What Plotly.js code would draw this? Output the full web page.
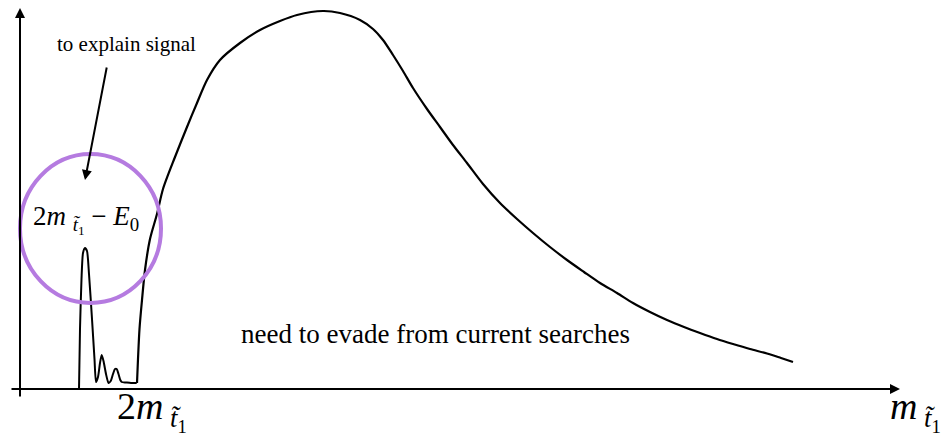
<!DOCTYPE html>
<html>
<head>
<meta charset="utf-8">
<script src="https://cdn.plot.ly/plotly-3.0.1.min.js"></script>
<style>html,body{margin:0;padding:0;background:#fff;}#chart{width:951px;height:439px;}</style>
</head>
<body>
<div id="chart"></div>
<script>
// Schematic mass spectrum (arbitrary units, height above the baseline)
// Narrow resonance peak near 2m - E0 with small wiggles
var peakX = [79, 80, 81.5, 83, 85, 87, 89, 92, 94.5, 96, 98, 100, 101.7, 103.5, 106, 108.5, 110.7, 113, 115, 116.7, 118.5, 120.3, 121.7, 126, 131, 136.7];
var peakY = [0, 60, 110, 136, 141, 138, 115, 70, 30, 7, 12, 26, 34, 28, 15, 6, 8, 15, 20, 20, 15, 9, 7, 6.5, 6, 6];
// Broad continuum above threshold
var contX = [137, 138, 139.5, 142, 145, 150, 157, 163, 175, 187, 197, 207, 220, 240, 260, 280, 297, 323, 340, 360, 373, 383, 393, 403, 413, 427, 440, 453, 467, 483, 500, 517, 533, 550, 567, 584, 600, 617, 633, 650, 667, 684, 700, 717, 733, 750, 767, 781, 793];
var contY = [6, 30, 60, 89, 119, 150, 175, 200, 232, 262, 286, 309, 329, 346, 359, 368, 374, 378, 376, 369, 360, 349, 334, 318, 301, 280, 262, 244, 226, 205, 186, 170, 156, 142, 129, 117, 106, 96, 86, 77, 69, 62, 56, 50, 45, 40, 35.5, 31, 27];

var serif = "'Liberation Serif', 'DejaVu Serif', serif";

var traces = [
  {x: peakX, y: peakY, type: 'scatter', mode: 'lines', line: {color: '#000', width: 2, shape: 'spline', smoothing: 0.6}, hoverinfo: 'skip'},
  {x: contX, y: contY, type: 'scatter', mode: 'lines', line: {color: '#000', width: 2.2, shape: 'spline', smoothing: 0.8}, hoverinfo: 'skip'}
];

var layout = {
  width: 951, height: 439,
  margin: {l: 0, r: 0, t: 0, b: 0},
  paper_bgcolor: '#fff', plot_bgcolor: '#fff',
  showlegend: false,
  font: {family: serif, color: '#000'},
  xaxis: {range: [0, 951], visible: false, fixedrange: true},
  yaxis: {range: [-50, 389], visible: false, fixedrange: true},
  shapes: [
    {type: 'circle', xref: 'x', yref: 'y', x0: 20, x1: 161, y0: 86, y1: 235,
     line: {color: '#b57be0', width: 4}}
  ],
  annotations: [
    // x axis with arrow
    {x: 900, y: 0, ax: 10, ay: 0, xref: 'x', yref: 'y', axref: 'x', ayref: 'y', text: '', showarrow: true,
     arrowhead: 2, arrowsize: 1, arrowwidth: 2, arrowcolor: '#000'},
    // y axis with arrow
    {x: 20, y: 381, ax: 20, ay: -9, xref: 'x', yref: 'y', axref: 'x', ayref: 'y', text: '', showarrow: true,
     arrowhead: 2, arrowsize: 1, arrowwidth: 2, arrowcolor: '#000'},
    // pointer arrow
    {x: 85, y: 209, ax: 107, ay: 323, xref: 'x', yref: 'y', axref: 'x', ayref: 'y', text: '', showarrow: true,
     arrowhead: 2, arrowsize: 1, arrowwidth: 2, arrowcolor: '#000'},
    {x: 126, y: 345, xref: 'x', yref: 'y', text: 'to explain signal', showarrow: false,
     font: {family: serif, size: 21, color: '#000'}},
    {x: 86, y: 170, xref: 'x', yref: 'y', text: '2<i>m</i> <sub><i>t̃</i><sub>1</sub></sub> − <i>E</i><sub>0</sub>', showarrow: false,
     font: {family: serif, size: 27, color: '#000'}},
    {x: 435, y: 55, xref: 'x', yref: 'y', text: 'need to evade from current searches', showarrow: false,
     font: {family: serif, size: 27, color: '#000'}},
    {x: 152, y: -22, xref: 'x', yref: 'y', text: '2<i>m</i><sub> <i>t̃</i><sub>1</sub></sub>', showarrow: false,
     font: {family: serif, size: 38, color: '#000'}},
    {x: 915, y: -22, xref: 'x', yref: 'y', text: '<i>m</i><sub> <i>t̃</i><sub>1</sub></sub>', showarrow: false,
     font: {family: serif, size: 38, color: '#000'}}
  ]
};

Plotly.newPlot('chart', traces, layout, {displayModeBar: false, staticPlot: true});
</script>
</body>
</html>
